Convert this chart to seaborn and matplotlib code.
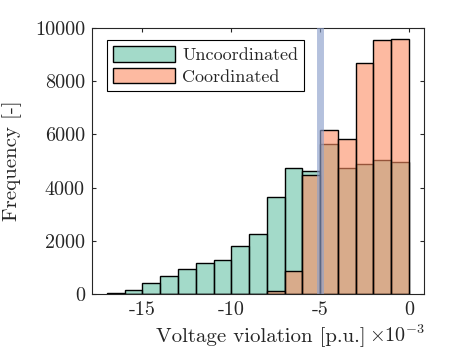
import seaborn as sns
import matplotlib.pyplot as plt
from matplotlib.patches import Patch
import numpy as np

# bin edges in units of 1e-3 p.u.
bin_edges = list(range(-17, 1))
uncoordinated = [60, 175, 440, 700, 940, 1160, 1270, 1800, 2250, 3640,
                 4740, 4640, 5640, 4740, 4890, 5040, 4960]
coordinated = [0, 0, 0, 0, 0, 0, 0, 0, 0, 120,
               870, 4470, 6160, 5820, 8690, 9520, 9570]
limit_line = -5
series_labels = ['Uncoordinated', 'Coordinated']
xtick_vals = [-15, -10, -5, 0]
xtick_labels = ['-15', '-10', '-5', '0']
ytick_vals = [0, 2000, 4000, 6000, 8000, 10000]

sns.set_style("white")
plt.rcParams['font.family'] = 'serif'
plt.rcParams['font.serif'] = ['cmr10', 'DejaVu Serif']
plt.rcParams['mathtext.fontset'] = 'cm'
plt.rcParams['axes.unicode_minus'] = False
plt.rcParams['axes.formatter.use_mathtext'] = True

dark = '#262626'
pal = sns.color_palette('Set2', 3)

fig = plt.figure(figsize=(4.71, 3.55), dpi=100)
ax = fig.add_axes([0.195, 0.171, 0.706, 0.751])

centers = np.array(bin_edges[:-1]) + 0.5
sns.histplot(x=centers, weights=uncoordinated, bins=bin_edges, color=pal[0],
             alpha=0.6, edgecolor='black', linewidth=1.0, ax=ax)
sns.histplot(x=centers, weights=coordinated, bins=bin_edges, color=pal[1],
             alpha=0.6, edgecolor='black', linewidth=1.0, ax=ax)
ax.axvline(limit_line, color=pal[2], alpha=0.65, linewidth=5, zorder=5)

ax.set_xlim(-17.85, 0.87)
ax.set_ylim(0, 10000)
ax.set_xticks(xtick_vals)
ax.set_xticklabels(xtick_labels)
ax.set_yticks(ytick_vals)
ax.set_yticklabels([str(v) for v in ytick_vals])
ax.tick_params(direction='in', length=3, width=0.8, color=dark,
               labelcolor=dark, labelsize=14.5, top=True, right=True,
               bottom=True, left=True)
ax.tick_params(axis='x', pad=5)
ax.tick_params(axis='y', pad=5)
for s in ax.spines.values():
    s.set_visible(True)
    s.set_color(dark)
    s.set_linewidth(0.8)

ax.set_ylabel('Frequency [-]', fontsize=15, color=dark)
ax.yaxis.set_label_coords(-0.24, 0.5)
ax.yaxis.label.set_va('center')
ax.set_xlabel('')
fig.text(0.554, 0.036, 'Voltage violation [p.u.]', ha='center',
         va='baseline', fontsize=15, color=dark)
fig.text(0.902, 0.036, r'$\times 10^{-3}$', ha='right', va='baseline',
         fontsize=14.5, color=dark)

handles = [Patch(facecolor=(*pal[0], 0.6), edgecolor='black', linewidth=1.0),
           Patch(facecolor=(*pal[1], 0.6), edgecolor='black', linewidth=1.0)]
leg = ax.legend(handles, series_labels, loc='upper left',
                bbox_to_anchor=(0.046, 0.954), borderaxespad=0,
                fontsize=13, fancybox=False, framealpha=1, edgecolor='black',
                handlelength=3.4, handleheight=0.95, handletextpad=0.4,
                labelspacing=0.25, borderpad=0.35)
leg.get_frame().set_linewidth(0.8)
for t in leg.get_texts():
    t.set_color(dark)

fig.savefig('out.png', dpi=100)
